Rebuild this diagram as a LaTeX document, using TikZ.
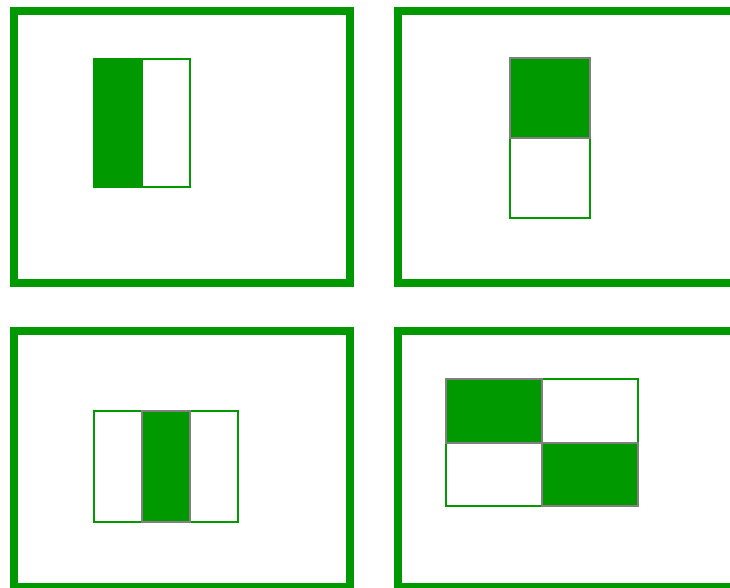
\documentclass[tikz,border=0pt]{standalone}
\definecolor{gr}{HTML}{009900}
\definecolor{gy}{HTML}{808080}
\tikzset{
  frame/.style={draw=gr, line width=8pt},
  cellout/.style={draw=gr, line width=2pt, fill=white},
  cellfill/.style={draw=gy, line width=2pt, fill=gr},
  plainfill/.style={fill=gr},
}
\begin{document}
\begin{tikzpicture}[x=1pt,y=-1pt]
\useasboundingbox (0,0) rectangle (730,588);
\clip (0,0) rectangle (730,588);
% frames
\draw[frame] (14,11) rectangle (350,283);
\draw[frame] (398,11) rectangle (780,283);
\draw[frame] (14,331) rectangle (350,587);
\draw[frame] (398,331) rectangle (780,587);
% top-left
\draw[cellout] (94,59) rectangle (190,187);
\fill[plainfill] (93,58) rectangle (143,188);
% top-right
\draw[cellout] (510,138) rectangle (590,218);
\draw[cellfill] (510,58) rectangle (590,138);
% bottom-left
\draw[cellout] (94,411) rectangle (238,522);
\draw[cellfill] (142,411) rectangle (190,522);
% bottom-right
\draw[cellout] (446,379) rectangle (638,506);
\draw[cellout] (446,443) -- (542,443);
\draw[cellfill] (446,379) rectangle (542,443);
\draw[cellfill] (542,443) rectangle (638,506);
\end{tikzpicture}
\end{document}
